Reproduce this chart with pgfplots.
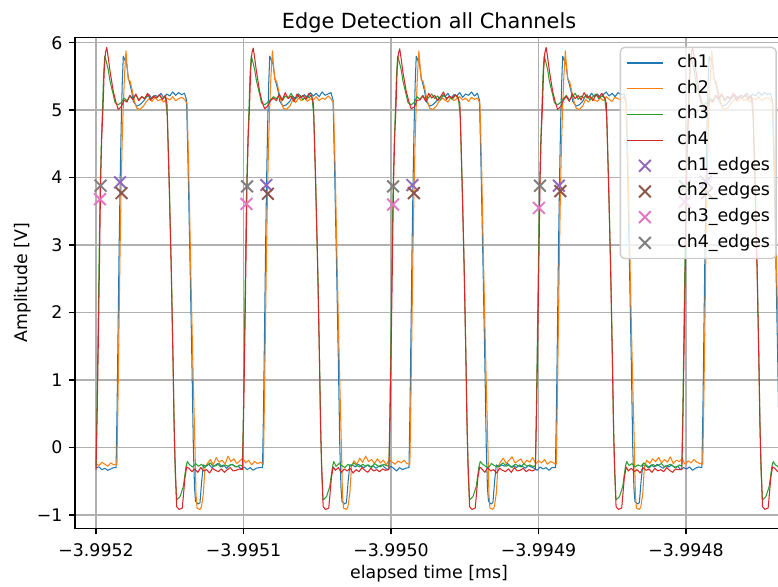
\documentclass[border=0pt]{standalone}
\usepackage{fontspec}
\setmainfont{DejaVu Sans}
\usepackage{pgfplots}
\pgfplotsset{compat=1.18}
\definecolor{tabblue}{HTML}{1F77B4}
\definecolor{taborange}{HTML}{FF7F0E}
\definecolor{tabgreen}{HTML}{2CA02C}
\definecolor{tabred}{HTML}{D62728}
\definecolor{tabpurple}{HTML}{9467BD}
\definecolor{tabbrown}{HTML}{8C564B}
\definecolor{tabpink}{HTML}{E377C2}
\definecolor{tabgray}{HTML}{7F7F7F}
\definecolor{gridgray}{HTML}{B0B0B0}
\definecolor{legendedge}{HTML}{CCCCCC}
\pgfplotsset{
  mylegend/.style={legend image code/.code={%
    \path[draw=none,fill=none] (0pt,-2pt) rectangle (20.7pt,2pt);
    \draw[mark repeat=2,mark phase=2,sharp corners,##1] plot coordinates {(0pt,0pt) (10.35pt,0pt) (20.7pt,0pt)};}},
  sig/.style={line width=0.6pt, mark=none, line join=round},
  edg/.style={only marks, mark=x, mark size=4.8pt, mark options={line width=1.1pt}},
}
\begin{document}
\begin{tikzpicture}
\begin{axis}[
  scale only axis,
  width=407.8pt, height=282.8pt,
  xmin=-14.24, xmax=465.8,
  ymin=-1.2, ymax=6.08,
  xtick={0,100,200,300,400},
  xticklabels={−3.9952,−3.9951,−3.9950,−3.9949,−3.9948},
  ytick={-1,0,1,2,3,4,5,6},
  yticklabels={−1,0,1,2,3,4,5,6},
  tick pos=left, tick align=outside,
  major tick length=3.5pt,
  every tick/.style={black, line width=0.8pt},
  axis line style={black, line width=0.8pt},
  grid=major,
  grid style={gridgray, line width=0.8pt},
  tick label style={font=\fontsize{10}{12}\selectfont},
  xticklabel style={anchor=base, inner sep=0pt, yshift=-12.5pt},
  yticklabel style={anchor=east, inner sep=0pt, xshift=-3.5pt},
  title={Edge Detection all Channels},
  title style={at={(axis description cs:0.5,1)}, anchor=base, inner sep=0pt, yshift=-1pt, font=\fontsize{12}{14}\selectfont},
  xlabel={elapsed time [ms]},
  xlabel style={at={(axis description cs:0.5,-0.103)}, anchor=base, inner sep=0pt, font=\fontsize{10}{12}\selectfont},
  ylabel={Amplitude [V]},
  ylabel style={at={(axis description cs:-0.062,0.5)}, anchor=south, inner sep=0pt, font=\fontsize{10}{12}\selectfont},
  mylegend,
  legend style={at={(axis description cs:1,1)}, anchor=north east,
    xshift=-3.6pt, yshift=-5.4pt,
    draw=legendedge, line width=0.8pt, fill=white, fill opacity=0.8, text opacity=1,
    rounded corners=2.5pt, inner xsep=3.5pt, inner ysep=4pt,
    row sep=4.8pt, column sep=8pt,
    font=\fontsize{10}{12}\selectfont,
    nodes={inner sep=0pt, text height=7.5pt, text depth=2.5pt}},
  legend cell align=left,
]
% ch1
\addplot[sig, tabblue] coordinates {
(0,-0.30) (2,-0.29) (4,-0.33) (6,-0.31) (8,-0.34) (10,-0.32) (12,-0.30)
(13.6,-0.3) (14.3,0.6) (15.0,1.8) (15.7,3.0) (16.4,4.0) (17.1,4.8) (17.8,5.4) (18.5,5.80) (19.6,5.74) (20.8,5.68) (21.9,5.48) (24.2,5.28) (25.3,5.13) (27.6,5.06) (29.8,5.08) (32.1,5.13)
(34,5.19) (36,5.23) (38,5.17) (40,5.22) (42,5.20) (44,5.25) (46,5.18) (48,5.24) (50,5.21) (52,5.27) (54,5.22) (56,5.26) (58,5.23) (60,5.25)
(61.4,5.15) (62.4,4.2) (63.7,2.8) (65.0,1.3) (66.0,0.0) (66.8,-0.6) (67.5,-0.8) (69.2,-0.84) (70.5,-0.82) (71.7,-0.49) (72.8,-0.26)
(74.5,-0.28) (76.5,-0.25) (78.5,-0.30) (80.5,-0.27) (82.5,-0.24) (84.5,-0.29) (86.5,-0.26) (88.5,-0.31) (90.5,-0.27) (92.5,-0.25) (94.5,-0.29) (96.5,-0.28) (98.5,-0.32) (100.5,-0.29) (102.5,-0.33) (104.5,-0.30) (106.5,-0.34) (108.5,-0.31) (110.5,-0.30)
(112.9,-0.3) (113.6,0.6) (114.3,1.8) (115.0,3.0) (115.7,4.0) (116.4,4.8) (117.1,5.4) (117.8,5.80) (118.9,5.74) (120.1,5.68) (121.2,5.48) (123.5,5.28) (124.6,5.13) (126.9,5.06) (129.1,5.08) (131.4,5.13)
(133.3,5.21) (135.3,5.17) (137.3,5.24) (139.3,5.19) (141.3,5.23) (143.3,5.18) (145.3,5.26) (147.3,5.21) (149.3,5.25) (151.3,5.20) (153.3,5.27) (155.3,5.22) (157.3,5.24) (159.3,5.26)
(160.7,5.15) (161.7,4.2) (163.0,2.8) (164.3,1.3) (165.3,0.0) (166.1,-0.6) (166.8,-0.8) (168.5,-0.84) (169.8,-0.82) (171.0,-0.49) (172.1,-0.26)
(173.8,-0.26) (175.8,-0.29) (177.8,-0.25) (179.8,-0.28) (181.8,-0.30) (183.8,-0.26) (185.8,-0.29) (187.8,-0.27) (189.8,-0.31) (191.8,-0.28) (193.8,-0.26) (195.8,-0.30) (197.8,-0.33) (199.8,-0.28) (201.8,-0.31) (203.8,-0.35) (205.8,-0.30) (207.8,-0.33) (209.8,-0.31)
(212.2,-0.3) (212.9,0.6) (213.6,1.8) (214.3,3.0) (215.0,4.0) (215.7,4.8) (216.4,5.4) (217.1,5.80) (218.2,5.74) (219.4,5.68) (220.5,5.48) (222.8,5.28) (223.9,5.13) (226.2,5.06) (228.4,5.08) (230.7,5.13)
(232.6,5.18) (234.6,5.22) (236.6,5.20) (238.6,5.25) (240.6,5.17) (242.6,5.23) (244.6,5.21) (246.6,5.26) (248.6,5.19) (250.6,5.24) (252.6,5.22) (254.6,5.27) (256.6,5.21) (258.6,5.25)
(260.0,5.15) (261.0,4.2) (262.3,2.8) (263.6,1.3) (264.6,0.0) (265.4,-0.6) (266.1,-0.8) (267.8,-0.84) (269.1,-0.82) (270.3,-0.49) (271.4,-0.26)
(273.1,-0.29) (275.1,-0.26) (277.1,-0.28) (279.1,-0.24) (281.1,-0.29) (283.1,-0.27) (285.1,-0.30) (287.1,-0.26) (289.1,-0.28) (291.1,-0.31) (293.1,-0.27) (295.1,-0.29) (297.1,-0.31) (299.1,-0.34) (301.1,-0.29) (303.1,-0.32) (305.1,-0.30) (307.1,-0.34) (309.1,-0.30)
(311.5,-0.3) (312.2,0.6) (312.9,1.8) (313.6,3.0) (314.3,4.0) (315.0,4.8) (315.7,5.4) (316.4,5.80) (317.5,5.74) (318.7,5.68) (319.8,5.48) (322.1,5.28) (323.2,5.13) (325.5,5.06) (327.7,5.08) (330.0,5.13)
(331.9,5.22) (333.9,5.18) (335.9,5.25) (337.9,5.20) (339.9,5.24) (341.9,5.19) (343.9,5.23) (345.9,5.27) (347.9,5.21) (349.9,5.25) (351.9,5.20) (353.9,5.26) (355.9,5.23) (357.9,5.24)
(359.3,5.15) (360.3,4.2) (361.6,2.8) (362.9,1.3) (363.9,0.0) (364.7,-0.6) (365.4,-0.8) (367.1,-0.84) (368.4,-0.82) (369.6,-0.49) (370.7,-0.26)
(372.4,-0.27) (374.4,-0.30) (376.4,-0.26) (378.4,-0.29) (380.4,-0.25) (382.4,-0.28) (384.4,-0.31) (386.4,-0.27) (388.4,-0.29) (390.4,-0.26) (392.4,-0.30) (394.4,-0.28) (396.4,-0.33) (398.4,-0.30) (400.4,-0.32) (402.4,-0.29) (404.4,-0.34) (406.4,-0.31) (408.4,-0.29)
(410.8,-0.3) (411.5,0.6) (412.2,1.8) (412.9,3.0) (413.6,4.0) (414.3,4.8) (415.0,5.4) (415.7,5.80) (416.8,5.74) (418.0,5.68) (419.1,5.48) (421.4,5.28) (422.5,5.13) (424.8,5.06) (427.0,5.08) (429.3,5.13)
(431.2,5.19) (433.2,5.23) (435.2,5.17) (437.2,5.22) (439.2,5.20) (441.2,5.25) (443.2,5.18) (445.2,5.24) (447.2,5.21) (449.2,5.27) (451.2,5.22) (453.2,5.26) (455.2,5.23) (457.2,5.25)
(458.6,5.15) (459.6,4.2) (460.9,2.8) (462.2,1.3) (463.2,0.0) (464.0,-0.6) (464.7,-0.8) (466.4,-0.84)
};
% ch2
\addplot[sig, taborange] coordinates {
(0,-0.24) (2,-0.27) (4,-0.22) (6,-0.25) (8,-0.28) (10,-0.23) (12,-0.26)
(14.2,-0.25) (14.9,0.7) (15.6,1.8) (16.3,2.9) (17.0,3.8) (17.7,4.5) (18.4,5.0) (19.3,5.5) (20.3,5.88) (21.1,5.65) (21.9,5.45) (23.1,5.43) (24.2,5.33) (25.3,5.21) (26.4,5.11) (27.6,5.03) (29.8,5.01) (32.1,5.06)
(34,5.12) (36,5.17) (38,5.13) (40,5.19) (42,5.14) (44,5.16) (46,5.12) (48,5.18) (50,5.15) (52,5.20) (54,5.14) (56,5.17) (58,5.19) (60,5.16)
(61.7,5.1) (62.9,4.1) (64.2,2.7) (65.6,1.3) (67.1,0.0) (67.8,-0.7) (68.5,-0.9) (70.5,-0.92) (71.5,-0.88) (72.8,-0.68) (73.9,-0.29)
(75.5,-0.24) (77.5,-0.18) (79.5,-0.26) (81.5,-0.15) (83.5,-0.22) (85.5,-0.19) (87.5,-0.25) (89.5,-0.13) (91.5,-0.21) (93.5,-0.17) (95.5,-0.24) (97.5,-0.20) (99.5,-0.16) (101.5,-0.23) (103.5,-0.19) (105.5,-0.26) (107.5,-0.21) (109.5,-0.24) (111.5,-0.22)
(113.5,-0.25) (114.2,0.7) (114.9,1.8) (115.6,2.9) (116.3,3.8) (117.0,4.5) (117.7,5.0) (118.6,5.5) (119.6,5.88) (120.4,5.65) (121.2,5.45) (122.4,5.43) (123.5,5.33) (124.6,5.21) (125.7,5.11) (126.9,5.03) (129.1,5.01) (131.4,5.06)
(133.3,5.15) (135.3,5.11) (137.3,5.18) (139.3,5.14) (141.3,5.19) (143.3,5.13) (145.3,5.17) (147.3,5.15) (149.3,5.20) (151.3,5.14) (153.3,5.18) (155.3,5.16) (157.3,5.21) (159.3,5.17)
(161.0,5.1) (162.2,4.1) (163.5,2.7) (164.9,1.3) (166.4,0.0) (167.1,-0.7) (167.8,-0.9) (169.8,-0.92) (170.8,-0.88) (172.1,-0.68) (173.2,-0.29)
(174.8,-0.20) (176.8,-0.25) (178.8,-0.16) (180.8,-0.22) (182.8,-0.13) (184.8,-0.21) (186.8,-0.18) (188.8,-0.24) (190.8,-0.17) (192.8,-0.23) (194.8,-0.19) (196.8,-0.26) (198.8,-0.18) (200.8,-0.22) (202.8,-0.25) (204.8,-0.20) (206.8,-0.23) (208.8,-0.19) (210.8,-0.24)
(212.8,-0.25) (213.5,0.7) (214.2,1.8) (214.9,2.9) (215.6,3.8) (216.3,4.5) (217.0,5.0) (217.9,5.5) (218.9,5.88) (219.7,5.65) (220.5,5.45) (221.7,5.43) (222.8,5.33) (223.9,5.21) (225.0,5.11) (226.2,5.03) (228.4,5.01) (230.7,5.06)
(232.6,5.13) (234.6,5.18) (236.6,5.15) (238.6,5.12) (240.6,5.19) (242.6,5.14) (244.6,5.17) (246.6,5.20) (248.6,5.15) (250.6,5.18) (252.6,5.13) (254.6,5.19) (256.6,5.16) (258.6,5.18)
(260.3,5.1) (261.5,4.1) (262.8,2.7) (264.2,1.3) (265.7,0.0) (266.4,-0.7) (267.1,-0.9) (269.1,-0.92) (270.1,-0.88) (271.4,-0.68) (272.5,-0.29)
(274.1,-0.22) (276.1,-0.16) (278.1,-0.24) (280.1,-0.19) (282.1,-0.14) (284.1,-0.23) (286.1,-0.20) (288.1,-0.17) (290.1,-0.25) (292.1,-0.19) (294.1,-0.22) (296.1,-0.15) (298.1,-0.24) (300.1,-0.20) (302.1,-0.23) (304.1,-0.18) (306.1,-0.25) (308.1,-0.21) (310.1,-0.23)
(312.1,-0.25) (312.8,0.7) (313.5,1.8) (314.2,2.9) (314.9,3.8) (315.6,4.5) (316.3,5.0) (317.2,5.5) (318.2,5.88) (319.0,5.65) (319.8,5.45) (321.0,5.43) (322.1,5.33) (323.2,5.21) (324.3,5.11) (325.5,5.03) (327.7,5.01) (330.0,5.06)
(331.9,5.16) (333.9,5.12) (335.9,5.19) (337.9,5.15) (339.9,5.13) (341.9,5.18) (343.9,5.14) (345.9,5.20) (347.9,5.16) (349.9,5.13) (351.9,5.19) (353.9,5.17) (355.9,5.15) (357.9,5.20)
(359.6,5.1) (360.8,4.1) (362.1,2.7) (363.5,1.3) (365.0,0.0) (365.7,-0.7) (366.4,-0.9) (368.4,-0.92) (369.4,-0.88) (370.7,-0.68) (371.8,-0.29)
(373.4,-0.19) (375.4,-0.24) (377.4,-0.17) (379.4,-0.21) (381.4,-0.15) (383.4,-0.23) (385.4,-0.18) (387.4,-0.22) (389.4,-0.14) (391.4,-0.24) (393.4,-0.19) (395.4,-0.21) (397.4,-0.17) (399.4,-0.25) (401.4,-0.20) (403.4,-0.23) (405.4,-0.18) (407.4,-0.22) (409.4,-0.24)
(411.4,-0.25) (412.1,0.7) (412.8,1.8) (413.5,2.9) (414.2,3.8) (414.9,4.5) (415.6,5.0) (416.5,5.5) (417.5,5.88) (418.3,5.65) (419.1,5.45) (420.3,5.43) (421.4,5.33) (422.5,5.21) (423.6,5.11) (424.8,5.03) (427.0,5.01) (429.3,5.06)
(431.2,5.12) (433.2,5.17) (435.2,5.13) (437.2,5.19) (439.2,5.14) (441.2,5.16) (443.2,5.12) (445.2,5.18) (447.2,5.15) (449.2,5.20) (451.2,5.14) (453.2,5.17) (455.2,5.19) (457.2,5.16)
(458.9,5.1) (460.1,4.1) (461.4,2.7) (462.8,1.3) (464.3,0.0) (465.0,-0.7) (465.7,-0.9) (467.7,-0.92)
};
% ch3
\addplot[sig, tabgreen] coordinates {
(0.0,-0.28) (0.7,0.6) (1.4,1.7) (2.1,2.8) (2.8,3.8) (3.6,4.5) (4.3,4.95) (5.1,5.5) (5.9,5.80) (7.0,5.72) (8.3,5.6) (9.5,5.43) (10.6,5.33) (11.7,5.23) (12.9,5.11) (15.1,5.08) (17.4,5.12)
(19,5.18) (21,5.14) (23,5.21) (25,5.16) (27,5.23) (29,5.15) (31,5.20) (33,5.17) (35,5.24) (37,5.16) (39,5.21) (41,5.18) (43,5.22) (45,5.17) (47,5.20)
(48.4,4.9) (49.8,3.8) (51.2,2.5) (52.4,1.1) (53.1,0.2) (53.7,-0.35) (54.6,-0.78) (55.6,-0.76) (57.0,-0.73) (59.2,-0.58) (61.0,-0.29) (61.9,-0.21)
(63.5,-0.26) (65.5,-0.29) (67.5,-0.24) (69.5,-0.28) (71.5,-0.25) (73.5,-0.30) (75.5,-0.26) (77.5,-0.23) (79.5,-0.28) (81.5,-0.27) (83.5,-0.24) (85.5,-0.29) (87.5,-0.26) (89.5,-0.28) (91.5,-0.25) (93.5,-0.27) (95.5,-0.29) (97.5,-0.26)
(99.3,-0.28) (100.0,0.6) (100.7,1.7) (101.4,2.8) (102.1,3.8) (102.9,4.5) (103.6,4.95) (104.4,5.5) (105.2,5.80) (106.3,5.72) (107.6,5.6) (108.8,5.43) (109.9,5.33) (111.0,5.23) (112.2,5.11) (114.4,5.08) (116.7,5.12)
(118.3,5.15) (120.3,5.20) (122.3,5.17) (124.3,5.23) (126.3,5.14) (128.3,5.21) (130.3,5.18) (132.3,5.25) (134.3,5.16) (136.3,5.19) (138.3,5.22) (140.3,5.15) (142.3,5.21) (144.3,5.18) (146.3,5.23)
(147.7,4.9) (149.1,3.8) (150.5,2.5) (151.7,1.1) (152.4,0.2) (153.0,-0.35) (153.9,-0.78) (154.9,-0.76) (156.3,-0.73) (158.5,-0.58) (160.3,-0.29) (161.2,-0.21)
(162.8,-0.28) (164.8,-0.24) (166.8,-0.27) (168.8,-0.30) (170.8,-0.25) (172.8,-0.28) (174.8,-0.23) (176.8,-0.27) (178.8,-0.29) (180.8,-0.25) (182.8,-0.28) (184.8,-0.26) (186.8,-0.30) (188.8,-0.24) (190.8,-0.27) (192.8,-0.29) (194.8,-0.25) (196.8,-0.27)
(198.6,-0.28) (199.3,0.6) (200.0,1.7) (200.7,2.8) (201.4,3.8) (202.2,4.5) (202.9,4.95) (203.7,5.5) (204.5,5.80) (205.6,5.72) (206.9,5.6) (208.1,5.43) (209.2,5.33) (210.3,5.23) (211.5,5.11) (213.7,5.08) (216.0,5.12)
(217.6,5.20) (219.6,5.16) (221.6,5.22) (223.6,5.14) (225.6,5.19) (227.6,5.24) (229.6,5.17) (231.6,5.21) (233.6,5.15) (235.6,5.23) (237.6,5.18) (239.6,5.20) (241.6,5.16) (243.6,5.22) (245.6,5.19)
(247.0,4.9) (248.4,3.8) (249.8,2.5) (251.0,1.1) (251.7,0.2) (252.3,-0.35) (253.2,-0.78) (254.2,-0.76) (255.6,-0.73) (257.8,-0.58) (259.6,-0.29) (260.5,-0.21)
(262.1,-0.25) (264.1,-0.28) (266.1,-0.30) (268.1,-0.24) (270.1,-0.27) (272.1,-0.29) (274.1,-0.26) (276.1,-0.23) (278.1,-0.28) (280.1,-0.26) (282.1,-0.30) (284.1,-0.25) (286.1,-0.27) (288.1,-0.29) (290.1,-0.24) (292.1,-0.28) (294.1,-0.26) (296.1,-0.28)
(297.9,-0.28) (298.6,0.6) (299.3,1.7) (300.0,2.8) (300.7,3.8) (301.5,4.5) (302.2,4.95) (303.0,5.5) (303.8,5.80) (304.9,5.72) (306.2,5.6) (307.4,5.43) (308.5,5.33) (309.6,5.23) (310.8,5.11) (313.0,5.08) (315.3,5.12)
(316.9,5.17) (318.9,5.22) (320.9,5.15) (322.9,5.20) (324.9,5.25) (326.9,5.16) (328.9,5.21) (330.9,5.18) (332.9,5.23) (334.9,5.15) (336.9,5.20) (338.9,5.24) (340.9,5.17) (342.9,5.21) (344.9,5.18)
(346.3,4.9) (347.7,3.8) (349.1,2.5) (350.3,1.1) (351.0,0.2) (351.6,-0.35) (352.5,-0.78) (353.5,-0.76) (354.9,-0.73) (357.1,-0.58) (358.9,-0.29) (359.8,-0.21)
(361.4,-0.27) (363.4,-0.24) (365.4,-0.29) (367.4,-0.26) (369.4,-0.28) (371.4,-0.23) (373.4,-0.27) (375.4,-0.30) (377.4,-0.25) (379.4,-0.28) (381.4,-0.26) (383.4,-0.24) (385.4,-0.29) (387.4,-0.27) (389.4,-0.25) (391.4,-0.28) (393.4,-0.30) (395.4,-0.26)
(397.2,-0.28) (397.9,0.6) (398.6,1.7) (399.3,2.8) (400.0,3.8) (400.8,4.5) (401.5,4.95) (402.3,5.5) (403.1,5.80) (404.2,5.72) (405.5,5.6) (406.7,5.43) (407.8,5.33) (408.9,5.23) (410.1,5.11) (412.3,5.08) (414.6,5.12)
(416.2,5.18) (418.2,5.14) (420.2,5.21) (422.2,5.16) (424.2,5.23) (426.2,5.15) (428.2,5.20) (430.2,5.17) (432.2,5.24) (434.2,5.16) (436.2,5.21) (438.2,5.18) (440.2,5.22) (442.2,5.17) (444.2,5.20)
(445.6,4.9) (447.0,3.8) (448.4,2.5) (449.6,1.1) (450.3,0.2) (450.9,-0.35) (451.8,-0.78) (452.8,-0.76) (454.2,-0.73) (456.4,-0.58) (458.2,-0.29) (459.1,-0.21)
(460.7,-0.26) (462.7,-0.29) (464.7,-0.24) (466.7,-0.28)
};
% ch4
\addplot[sig, tabred] coordinates {
(0.0,-0.33) (0.8,0.5) (1.6,1.6) (2.4,2.8) (3.1,3.9) (3.9,4.6) (4.7,5.0) (5.6,5.6) (6.4,5.85) (7.3,5.93) (8.3,5.78) (9.5,5.58) (10.6,5.43) (11.7,5.28) (13.6,5.11) (15.1,5.01) (17.4,5.06) (19.0,5.15)
(21,5.12) (23,5.22) (25,5.16) (27,5.24) (29,5.14) (31,5.20) (33,5.17) (35,5.25) (37,5.15) (39,5.21) (41,5.18) (43,5.23) (45,5.16) (47,5.22)
(48.1,5.1) (49.5,4.0) (50.9,2.75) (52.2,1.3) (52.9,0.36) (53.6,-0.2) (54.7,-0.88) (56.3,-0.92) (58.5,-0.9) (59.2,-0.73) (60.3,-0.45) (61.5,-0.29)
(63,-0.31) (65,-0.36) (67,-0.32) (69,-0.37) (71,-0.30) (73,-0.35) (75,-0.33) (77,-0.38) (79,-0.31) (81,-0.34) (83,-0.36) (85,-0.32) (87,-0.37) (89,-0.33) (91,-0.30) (93,-0.35) (95,-0.34) (97,-0.32)
(99.3,-0.33) (100.1,0.5) (100.9,1.6) (101.7,2.8) (102.4,3.9) (103.2,4.6) (104.0,5.0) (104.9,5.6) (105.7,5.85) (106.6,5.92) (107.6,5.77) (108.8,5.57) (109.9,5.42) (111.0,5.27) (112.9,5.10) (114.4,5.02) (116.7,5.07) (118.3,5.14)
(120.3,5.18) (122.3,5.14) (124.3,5.23) (126.3,5.15) (128.3,5.26) (130.3,5.17) (132.3,5.21) (134.3,5.13) (136.3,5.24) (138.3,5.18) (140.3,5.22) (142.3,5.16) (144.3,5.25) (146.3,5.19)
(147.4,5.1) (148.8,4.0) (150.2,2.75) (151.5,1.3) (152.2,0.36) (152.9,-0.2) (154.0,-0.88) (155.6,-0.92) (157.8,-0.9) (158.5,-0.73) (159.6,-0.45) (160.8,-0.29)
(162.3,-0.34) (164.3,-0.30) (166.3,-0.37) (168.3,-0.32) (170.3,-0.35) (172.3,-0.31) (174.3,-0.38) (176.3,-0.33) (178.3,-0.36) (180.3,-0.30) (182.3,-0.34) (184.3,-0.37) (186.3,-0.31) (188.3,-0.35) (190.3,-0.33) (192.3,-0.36) (194.3,-0.32) (196.3,-0.34)
(198.6,-0.33) (199.4,0.5) (200.2,1.6) (201.0,2.8) (201.7,3.9) (202.5,4.6) (203.3,5.0) (204.2,5.6) (205.0,5.84) (205.9,5.91) (206.9,5.76) (208.1,5.56) (209.2,5.42) (210.3,5.28) (212.2,5.12) (213.7,5.02) (216.0,5.05) (217.6,5.15)
(219.6,5.15) (221.6,5.21) (223.6,5.13) (225.6,5.25) (227.6,5.18) (229.6,5.22) (231.6,5.14) (233.6,5.20) (235.6,5.27) (237.6,5.16) (239.6,5.21) (241.6,5.18) (243.6,5.23) (245.6,5.17)
(246.7,5.1) (248.1,4.0) (249.5,2.75) (250.8,1.3) (251.5,0.36) (252.2,-0.2) (253.3,-0.88) (254.9,-0.92) (257.1,-0.9) (257.8,-0.73) (258.9,-0.45) (260.1,-0.29)
(261.6,-0.32) (263.6,-0.37) (265.6,-0.30) (267.6,-0.35) (269.6,-0.33) (271.6,-0.38) (273.6,-0.31) (275.6,-0.34) (277.6,-0.36) (279.6,-0.32) (281.6,-0.37) (283.6,-0.30) (285.6,-0.35) (287.6,-0.34) (289.6,-0.31) (291.6,-0.36) (293.6,-0.33) (295.6,-0.35)
(297.9,-0.33) (298.7,0.5) (299.5,1.6) (300.3,2.8) (301.0,3.9) (301.8,4.6) (302.6,5.0) (303.5,5.6) (304.3,5.85) (305.2,5.93) (306.2,5.78) (307.4,5.58) (308.5,5.43) (309.6,5.28) (311.5,5.11) (313.0,5.01) (315.3,5.06) (316.9,5.15)
(318.9,5.20) (320.9,5.13) (322.9,5.24) (324.9,5.17) (326.9,5.22) (328.9,5.15) (330.9,5.26) (332.9,5.18) (334.9,5.21) (336.9,5.14) (338.9,5.23) (340.9,5.19) (342.9,5.25) (344.9,5.18)
(346.0,5.1) (347.4,4.0) (348.8,2.75) (350.1,1.3) (350.8,0.36) (351.5,-0.2) (352.6,-0.88) (354.2,-0.92) (356.4,-0.9) (357.1,-0.73) (358.2,-0.45) (359.4,-0.29)
(360.9,-0.35) (362.9,-0.31) (364.9,-0.36) (366.9,-0.33) (368.9,-0.38) (370.9,-0.30) (372.9,-0.34) (374.9,-0.32) (376.9,-0.37) (378.9,-0.31) (380.9,-0.35) (382.9,-0.33) (384.9,-0.36) (386.9,-0.30) (388.9,-0.34) (390.9,-0.37) (392.9,-0.32) (394.9,-0.33)
(397.2,-0.33) (398.0,0.5) (398.8,1.6) (399.6,2.8) (400.3,3.9) (401.1,4.6) (401.9,5.0) (402.8,5.6) (403.6,5.85) (404.5,5.93) (405.5,5.78) (406.7,5.58) (407.8,5.43) (408.9,5.28) (410.8,5.11) (412.3,5.01) (414.6,5.06) (416.2,5.15)
(418.2,5.12) (420.2,5.22) (422.2,5.16) (424.2,5.24) (426.2,5.14) (428.2,5.20) (430.2,5.17) (432.2,5.25) (434.2,5.15) (436.2,5.21) (438.2,5.18) (440.2,5.23) (442.2,5.16) (444.2,5.22)
(445.3,5.1) (446.7,4.0) (448.1,2.75) (449.4,1.3) (450.1,0.36) (450.8,-0.2) (451.9,-0.88) (453.5,-0.92) (455.7,-0.9) (456.4,-0.73) (457.5,-0.45) (458.7,-0.29)
(460.2,-0.31) (462.2,-0.36) (464.2,-0.32) (466.2,-0.35)
};
% detected edges
\addplot[edg, tabpurple] coordinates {(16.3,3.93) (115.5,3.89) (214.5,3.89) (313.8,3.88) (413.4,3.94)};
\addplot[edg, tabbrown] coordinates {(17.3,3.77) (116.5,3.76) (215.5,3.77) (314.8,3.80) (414.4,3.77)};
\addplot[edg, tabpink] coordinates {(2.7,3.68) (102.0,3.61) (201.4,3.60) (300.3,3.55) (399.3,3.64)};
\addplot[edg, tabgray] coordinates {(3.1,3.88) (102.4,3.87) (201.4,3.87) (301.0,3.88) (399.3,3.87)};
\legend{ch1,ch2,ch3,ch4,ch1\_edges,ch2\_edges,ch3\_edges,ch4\_edges}
\coordinate (bl) at (rel axis cs:0,0);
\coordinate (tr) at (rel axis cs:1,1);
\end{axis}
\pgfresetboundingbox
\path[use as bounding box] ([xshift=-43.2pt,yshift=-33.8pt]bl) rectangle ([xshift=-2.9pt,yshift=21.5pt]tr);
\end{tikzpicture}
\end{document}
